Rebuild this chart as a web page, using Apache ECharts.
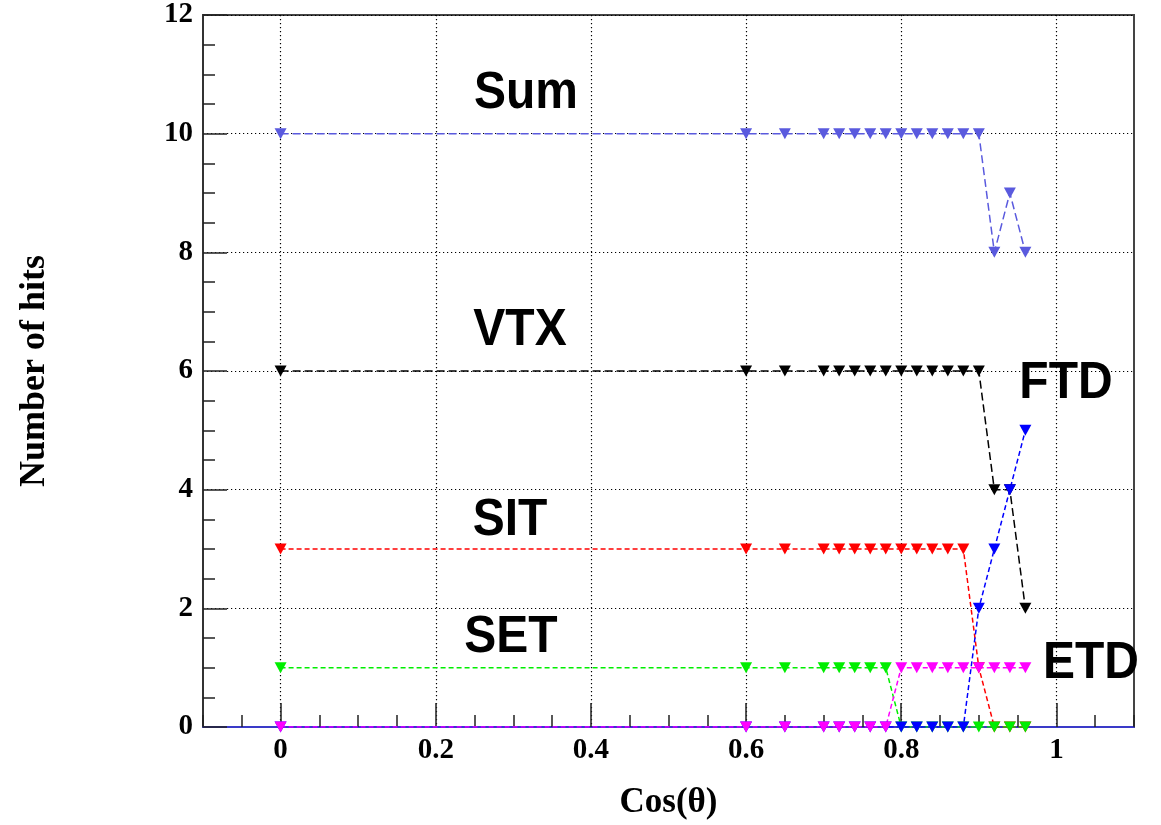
<!DOCTYPE html>
<html>
<head>
<meta charset="utf-8">
<script src="https://cdn.jsdelivr.net/npm/echarts@6/dist/echarts.min.js"></script>
<style>html,body{margin:0;padding:0;background:#fff}#c{width:1161px;height:825px}</style>
</head>
<body>
<div id="c"></div>
<script>
// Cos(theta) sample points
const cosTheta = [0, 0.6, 0.65, 0.7, 0.72, 0.74, 0.76, 0.78, 0.8, 0.82, 0.84, 0.86, 0.88, 0.9, 0.92, 0.94, 0.96];
// Number of hits per detector
const sumHits = [10, 10, 10, 10, 10, 10, 10, 10, 10, 10, 10, 10, 10, 10, 8, 9, 8];
const vtxHits = [6, 6, 6, 6, 6, 6, 6, 6, 6, 6, 6, 6, 6, 6, 4, 4, 2];
const sitHits = [3, 3, 3, 3, 3, 3, 3, 3, 3, 3, 3, 3, 3, 1, 0, 0, 0];
const setHits = [1, 1, 1, 1, 1, 1, 1, 1, 0, 0, 0, 0, 0, 0, 0, 0, 0];
const ftdHits = [0, 0, 0, 0, 0, 0, 0, 0, 0, 0, 0, 0, 0, 2, 3, 4, 5];
const etdHits = [0, 0, 0, 0, 0, 0, 0, 0, 1, 1, 1, 1, 1, 1, 1, 1, 1];
// Tick labels
const xMajorTicks = [0, 0.2, 0.4, 0.6, 0.8, 1];
const yTicks = [0, 2, 4, 6, 8, 10, 12];

const serif = '"Liberation Serif", "Times New Roman", serif';
const sans = '"Liberation Sans", Arial, sans-serif';

function mkSeries(name, vals, color, dash) {
  return {
    name: name,
    type: 'line',
    xAxisIndex: 0,
    data: cosTheta.map((x, i) => [x, vals[i]]),
    symbol: 'triangle',
    symbolRotate: 180,
    symbolSize: [12, 11],
    showAllSymbol: true,
    itemStyle: { color: color },
    lineStyle: { color: color, width: 1.5, type: dash },
    emphasis: { disabled: true },
    animation: false
  };
}

const chart = echarts.init(document.getElementById('c'), null, { renderer: 'canvas' });
const labelFont = 'bold 48px ' + sans;
const gridDots = { color: '#000', width: 1.2, type: [1.2, 2.8] };
function label(text, x, y) {
  return { type: 'text', x: x, y: y, z: 100, scaleY: 1.08,
    style: { text: text, font: labelFont, fill: '#000', align: 'center', verticalAlign: 'middle' } };
}
chart.setOption({
  backgroundColor: '#fff',
  animation: false,
  grid: { left: 203, right: 27, top: 15, bottom: 98, show: true, borderColor: '#444', borderWidth: 2, backgroundColor: 'transparent' },
  xAxis: [
    {
      type: 'value', position: 'bottom', min: -0.1, max: 1.1, interval: 0.05,
      axisLine: { show: true, onZero: false, lineStyle: { color: '#3a3ac8', width: 2 } },
      axisTick: { show: true, inside: true, length: 12, lineStyle: { color: '#222', width: 1.5 } },
      axisLabel: { show: false },
      splitLine: { show: false }
    },
    {
      type: 'value', position: 'bottom', min: -0.1, max: 1.1,
      axisLine: { show: false, onZero: false },
      axisTick: { show: true, inside: true, length: 24, customValues: xMajorTicks, lineStyle: { color: '#222', width: 1.5 } },
      axisLabel: { customValues: xMajorTicks, margin: 9, color: '#000', fontFamily: serif, fontWeight: 'bold', fontSize: 29,
        formatter: v => String(Math.round(v * 10) / 10) },
      splitLine: { show: true, lineStyle: gridDots },
      name: 'Cos(\u03b8)', nameLocation: 'middle', nameGap: 58,
      nameTextStyle: { color: '#000', fontFamily: serif, fontWeight: 'bold', fontSize: 35 }
    }
  ],
  yAxis: {
    type: 'value', min: 0, max: 12, interval: 2,
    axisLine: { show: true, onZero: false, lineStyle: { color: '#333', width: 2 } },
    axisTick: { show: true, inside: true, length: 24, lineStyle: { color: '#222', width: 1.5 } },
    minorTick: { show: true, splitNumber: 4, length: 12, lineStyle: { color: '#222', width: 1.5 } },
    axisLabel: { margin: 10, color: '#000', fontFamily: serif, fontWeight: 'bold', fontSize: 29,
      formatter: v => yTicks.indexOf(v) >= 0 ? String(v) : '' },
    splitLine: { show: true, lineStyle: gridDots },
    name: 'Number of hits', nameLocation: 'middle', nameGap: 150, nameRotate: 90,
    nameTextStyle: { color: '#000', fontFamily: serif, fontWeight: 'bold', fontSize: 36 }
  },
  series: [
    mkSeries('Sum', sumHits, '#5a5ade', [8, 4]),
    mkSeries('VTX', vtxHits, '#000000', [8, 4]),
    mkSeries('SIT', sitHits, '#ff0000', [5, 3]),
    mkSeries('SET', setHits, '#00ee00', [5, 3]),
    mkSeries('FTD', ftdHits, '#0000ff', [5, 3]),
    mkSeries('ETD', etdHits, '#ff00ff', [5, 3])
  ],
  graphic: [
    label('Sum', 526, 94),
    label('VTX', 520, 331),
    label('SIT', 510, 521),
    label('SET', 511, 638),
    label('FTD', 1066, 384),
    label('ETD', 1091, 664)
  ]
});
</script>
</body>
</html>
